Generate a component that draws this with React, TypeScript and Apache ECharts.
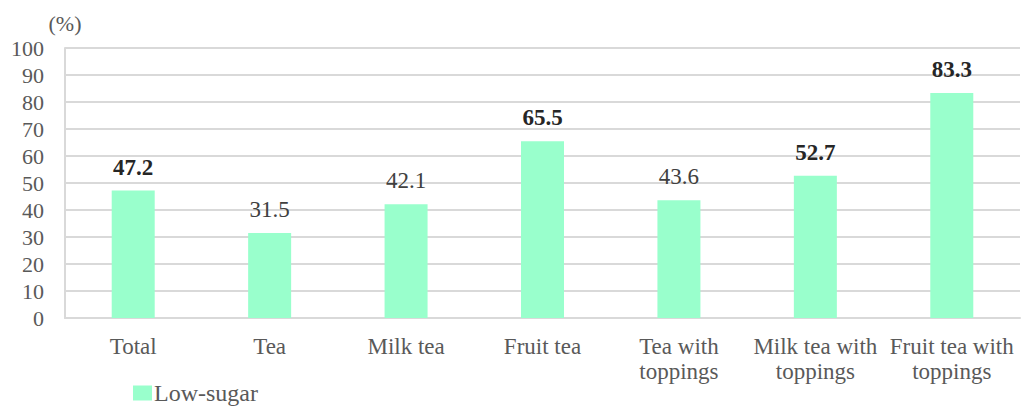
import React, { useEffect, useRef } from "react";
import * as echarts from "echarts";

const categories = ["Total", "Tea", "Milk tea", "Fruit tea", "Tea with\ntoppings", "Milk tea with\ntoppings", "Fruit tea with\ntoppings"];
const lowSugar = [47.2, 31.5, 42.1, 65.5, 43.6, 52.7, 83.3];
const boldLabels = [true, false, false, true, false, true, true];
const yTicks = { min: 0, max: 100, interval: 10 };

export default function App() {
  const ref = useRef<HTMLDivElement>(null);
  useEffect(() => {
    if (!ref.current) return;
    const chart = echarts.init(ref.current, null, { renderer: "svg" });
    const font = "Liberation Serif";
    chart.setOption({
      animation: false,
      textStyle: { fontFamily: font },
      grid: { left: 65, right: 2, top: 48, bottom: 90, containLabel: false },
      legend: {
        left: 133,
        top: 380,
        padding: 0,
        itemWidth: 19,
        itemHeight: 15,
        itemGap: 4,
        icon: "rect",
        textStyle: { fontFamily: font, fontSize: 24, lineHeight: 26, color: "#595959", padding: [0, 0, 0, -3] },
        data: ["Low-sugar"],
      },
      xAxis: {
        type: "category",
        data: categories,
        axisLine: { show: true, lineStyle: { color: "#d9d9d9", width: 2 } },
        axisTick: { show: false },
        axisLabel: { color: "#595959", fontSize: 23, fontFamily: font, margin: 16, lineHeight: 25, interval: 0 },
      },
      yAxis: {
        type: "value",
        min: yTicks.min,
        max: yTicks.max,
        interval: yTicks.interval,
        name: "(%)",
        nameLocation: "end",
        nameGap: 14,
        nameTextStyle: { color: "#595959", fontSize: 22, fontFamily: font, align: "center" },
        axisLine: { show: true, lineStyle: { color: "#d9d9d9", width: 2 } },
        axisTick: { show: false },
        axisLabel: { color: "#595959", fontSize: 22, fontFamily: font, margin: 21 },
        splitLine: { show: true, lineStyle: { color: "#d9d9d9", width: 2 } },
      },
      series: [
        {
          name: "Low-sugar",
          type: "bar",
          barWidth: 43,
          itemStyle: { color: "#99ffcc" },
          data: lowSugar.map((v, i) => ({
            value: v,
            label: {
              show: true,
              position: "top",
              distance: 12,
              fontSize: 23,
              fontFamily: font,
              color: boldLabels[i] ? "#262626" : "#404040",
              fontWeight: boldLabels[i] ? "bold" : "normal",
            },
          })),
        },
      ],
    });
    return () => chart.dispose();
  }, []);
  return <div ref={ref} style={{ position: "fixed", left: 0, top: 0, width: 1022, height: 408, background: "#fff" }} />;
}
